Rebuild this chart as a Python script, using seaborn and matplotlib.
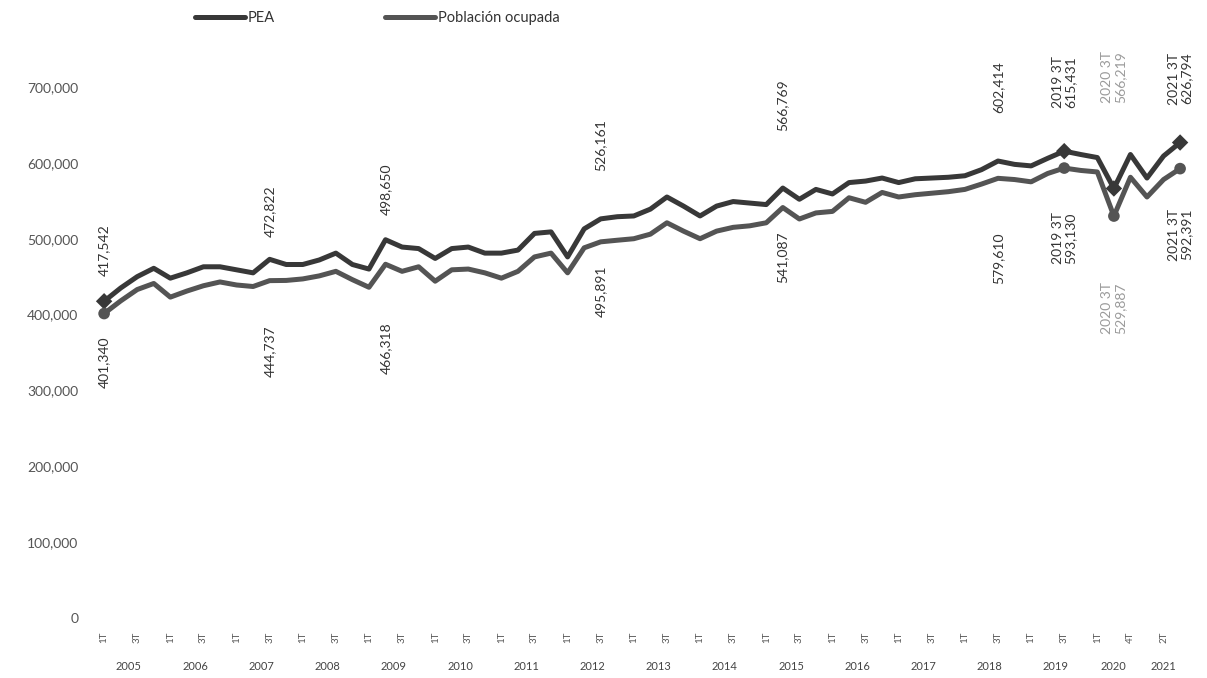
import pandas as pd
import seaborn as sns
import matplotlib.pyplot as plt
from matplotlib.ticker import FuncFormatter
import matplotlib.transforms as mtransforms

# Quarters: 2005-2019 complete, 2020 without 2T, 2021 up to 3T
years = list(range(2005, 2022))
quarters_per_year = {y: ["1T", "2T", "3T", "4T"] for y in range(2005, 2020)}
quarters_per_year[2020] = ["1T", "3T", "4T"]
quarters_per_year[2021] = ["1T", "2T", "3T"]

pea = [417542, 435000, 450000, 461000, 448000, 455000, 463000, 463000, 459000, 455000,
       472822, 466000, 466000, 472000, 481000, 466000, 460000, 498650, 489000, 487000,
       474000, 487000, 489000, 481000, 481000, 485000, 507000, 509000, 476000, 513000,
       526161, 529000, 530000, 539000, 555000, 543000, 530000, 543000, 549000, 547000,
       545000, 566769, 552000, 565000, 559000, 574000, 576000, 580000, 574000, 579000,
       580000, 581000, 583000, 591000, 602414, 598000, 596000, 606000, 615431, 611000,
       607000, 566219, 611000, 580000, 609000, 626794]

ocupada = [401340, 418000, 433000, 441000, 423000, 431000, 438000, 443000, 439000, 437000,
           444737, 445000, 447000, 451000, 457000, 446000, 436000, 466318, 457000, 463000,
           444000, 459000, 460000, 455000, 448000, 457000, 476000, 481000, 455000, 488000,
           495891, 498000, 500000, 506000, 521000, 510000, 500000, 510000, 515000, 517000,
           521000, 541087, 526000, 534000, 536000, 554000, 548000, 561000, 555000, 558000,
           560000, 562000, 565000, 572000, 579610, 578000, 575000, 586000, 593130, 590000,
           588000, 529887, 581000, 555000, 578000, 592391]

series_names = ["PEA", "Población ocupada"]
colors = {"PEA": "#383838", "Población ocupada": "#545454"}

# labelled points: (series, index, text, offset in px, colour)
labels = [
    ("PEA", 0, "417,542", 25, "#333333"),
    ("PEA", 10, "472,822", 22, "#333333"),
    ("PEA", 17, "498,650", 25, "#333333"),
    ("PEA", 30, "526,161", 48, "#333333"),
    ("PEA", 41, "566,769", 57, "#333333"),
    ("PEA", 54, "602,414", 48, "#333333"),
    ("PEA", 58, "2019 3T\n615,431", 43, "#333333"),
    ("PEA", 61, "2020 3T\n566,219", 85, "#9a9a9a"),
    ("PEA", 65, "2021 3T\n626,794", 38, "#333333"),
    ("Población ocupada", 0, "401,340", -23, "#333333"),
    ("Población ocupada", 10, "444,737", -45, "#333333"),
    ("Población ocupada", 17, "466,318", -58, "#333333"),
    ("Población ocupada", 30, "495,891", -24, "#333333"),
    ("Población ocupada", 41, "541,087", -24, "#333333"),
    ("Población ocupada", 54, "579,610", -54, "#333333"),
    ("Población ocupada", 58, "2019 3T\n593,130", -44, "#333333"),
    ("Población ocupada", 61, "2020 3T\n529,887", -66, "#9a9a9a"),
    ("Población ocupada", 65, "2021 3T\n592,391", -40, "#333333"),
]
marker_idx = [0, 58, 61, 65]

quarter_labels = []
year_of = []
for y in years:
    for q in quarters_per_year[y]:
        quarter_labels.append(q)
        year_of.append(y)
n = len(quarter_labels)

df = pd.DataFrame({
    "idx": list(range(n)) * 2,
    "valor": pea + ocupada,
    "serie": ["PEA"] * n + ["Población ocupada"] * n,
})

sns.set_style("white")
plt.rcParams["font.family"] = ["Lato", "DejaVu Sans"]

fig = plt.figure(figsize=(12.07, 6.78), dpi=100)
ax = fig.add_axes([95 / 1207, 1 - 618 / 678, 1100 / 1207, 531 / 678])

sns.lineplot(data=df, x="idx", y="valor", hue="serie", palette=colors,
             linewidth=3.6, ax=ax, legend=True)

mk = df[df["idx"].isin(marker_idx)]
sns.scatterplot(data=mk, x="idx", y="valor", hue="serie", style="serie",
                markers={"PEA": "D", "Población ocupada": "o"}, palette=colors,
                s=70, edgecolor="none", ax=ax, legend=False, zorder=5)

ax.set_xlim(-0.55, 65.9)
ax.set_ylim(0, 700000)
ax.set_yticks(range(0, 700001, 100000))
ax.yaxis.set_major_formatter(FuncFormatter(lambda v, p: f"{int(v):,}"))
ax.set_xticks(range(0, n, 2))
ax.set_xticklabels(quarter_labels[::2], rotation=90, fontsize=7, color="#555555")
ax.tick_params(axis="y", labelsize=10, labelcolor="#555555", length=0, pad=12)
ax.tick_params(axis="x", length=0, pad=10)
ax.set_xlabel("")
ax.set_ylabel("")
for s in ax.spines.values():
    s.set_visible(False)

# year labels under the quarter labels
trans = mtransforms.blended_transform_factory(ax.transData, ax.transAxes)
for y in years:
    pos = [i for i, yy in enumerate(year_of) if yy == y]
    ax.text(sum(pos) / len(pos), -0.092, str(y), transform=trans, ha="center",
            va="center", fontsize=8, color="#444444")

# data labels
vals = {"PEA": pea, "Población ocupada": ocupada}
for serie, i, txt, off, col in labels:
    ax.annotate(txt, xy=(i, vals[serie][i]), xytext=(0, off * 0.72),
                textcoords="offset points", rotation=90, ha="center",
                va="bottom" if off > 0 else "top", fontsize=10, color=col,
                linespacing=1.1, annotation_clip=False)

handles, lbls = ax.get_legend_handles_labels()
ax.legend_.remove()
leg = fig.legend(handles[:2], series_names, loc="center left",
                 bbox_to_anchor=(195 / 1207, 1 - 18 / 678), ncol=2, frameon=False,
                 fontsize=10.5, handlelength=3.4, handletextpad=0.2,
                 columnspacing=7.6, borderpad=0, borderaxespad=0)
for t in leg.get_texts():
    t.set_color("#333333")

plt.savefig("out.png", dpi=100)
